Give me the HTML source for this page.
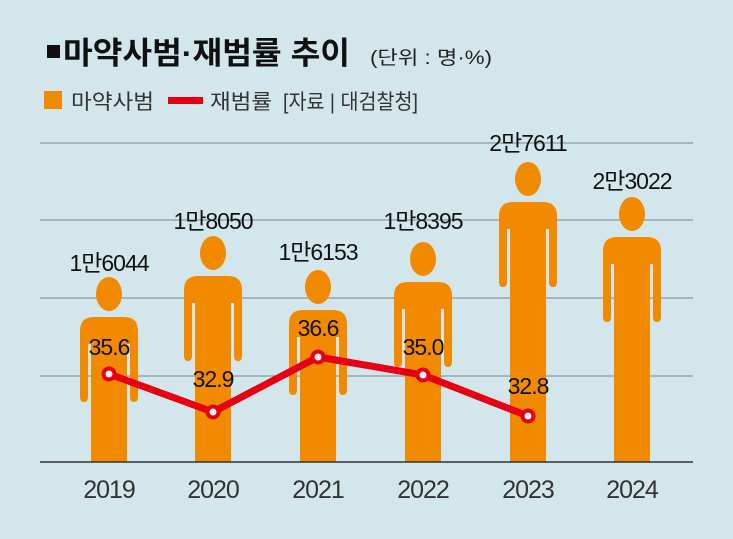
<!DOCTYPE html>
<html><head><meta charset="utf-8"><style>
html,body{margin:0;background:#d3e6eb;width:733px;height:539px;overflow:hidden;}
svg{display:block}
text{font-family:"Liberation Sans","Noto Sans CJK KR",sans-serif;}
</style></head><body>
<svg width="733" height="539" viewBox="0 0 733 539">
<rect width="733" height="539" fill="#d3e6eb"/>
<rect x="47" y="45" width="13" height="13" fill="#111"/>
<text x="63" y="64" font-size="31" font-weight="bold" fill="#111" textLength="287" lengthAdjust="spacingAndGlyphs">마약사범·재범률 추이</text>
<text x="370" y="64" font-size="19" fill="#222" textLength="122" lengthAdjust="spacingAndGlyphs">(단위 : 명·%)</text>
<rect x="44" y="91" width="18" height="18" fill="#f28a00"/>
<text x="71" y="109" font-size="21" fill="#333" textLength="83" lengthAdjust="spacingAndGlyphs">마약사범</text>
<rect x="168" y="97" width="35" height="7" fill="#e60012"/>
<text x="210" y="109" font-size="21" fill="#333" textLength="62" lengthAdjust="spacingAndGlyphs">재범률</text>
<text x="283" y="109" font-size="21" fill="#333" textLength="135" lengthAdjust="spacingAndGlyphs">[자료 | 대검찰청]</text>
<g stroke="#8c9a9e" stroke-width="1.2">
<line x1="40" y1="143" x2="693" y2="143"/><line x1="40" y1="220" x2="693" y2="220"/>
<line x1="40" y1="298" x2="693" y2="298"/><line x1="40" y1="376" x2="693" y2="376"/>
</g>
<defs>
<g id="p" fill="#f28a00">
<ellipse cx="0" cy="17" rx="13" ry="17"/>
<path d="M-29,54 Q-29,40 -15,40 L15,40 Q29,40 29,54 L29,120 Q29,125 25,125 Q21,125 21,120 L21,67 L18,67 L18,400 L-18,400 L-18,67 L-21,67 L-21,120 Q-21,125 -25,125 Q-29,125 -29,120 Z"/>
</g>
<clipPath id="c"><rect x="0" y="0" width="733" height="462"/></clipPath>
</defs>
<g clip-path="url(#c)">
<use href="#p" transform="translate(109,277)"/>
<use href="#p" transform="translate(213,236)"/>
<use href="#p" transform="translate(318,270)"/>
<use href="#p" transform="translate(423,242)"/>
<use href="#p" transform="translate(528,162)"/>
<use href="#p" transform="translate(632,197)"/>
</g>
<line x1="40" y1="462" x2="693" y2="462" stroke="#333" stroke-width="1.5"/>
<g font-size="23" fill="#111" text-anchor="middle" letter-spacing="-1">
<text x="109" y="271">1만6044</text>
<text x="213" y="229">1만8050</text>
<text x="318" y="260">1만6153</text>
<text x="423" y="229">1만8395</text>
<text x="528" y="151">2만7611</text>
<text x="632" y="189">2만3022</text>
</g>
<polyline points="109,374 213,412 318,357 423,375 528,416" fill="none" stroke="#e60012" stroke-width="7" stroke-linejoin="round"/>
<g fill="#fff" stroke="#e60012" stroke-width="4">
<circle cx="109" cy="374" r="5.5"/><circle cx="213" cy="412" r="5.5"/><circle cx="318" cy="357" r="5.5"/><circle cx="423" cy="375" r="5.5"/><circle cx="528" cy="416" r="5.5"/>
</g>
<g font-size="23" fill="#111" text-anchor="middle" letter-spacing="-1">
<text x="109" y="355">35.6</text>
<text x="213" y="387">32.9</text>
<text x="318" y="336">36.6</text>
<text x="423" y="355">35.0</text>
<text x="528" y="394">32.8</text>
</g>
<g font-size="25" fill="#333" text-anchor="middle" letter-spacing="-1">
<text x="109" y="498">2019</text><text x="213" y="498">2020</text><text x="318" y="498">2021</text>
<text x="423" y="498">2022</text><text x="528" y="498">2023</text><text x="632" y="498">2024</text>
</g>
</svg>
</body></html>
